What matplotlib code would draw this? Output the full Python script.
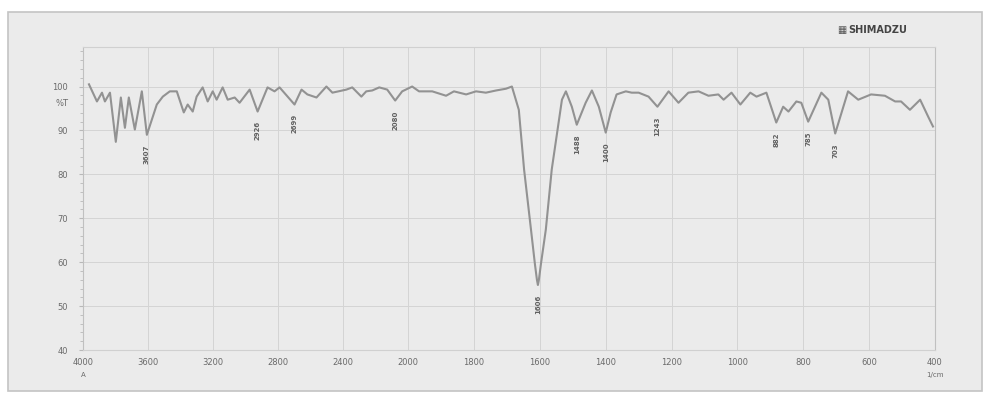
"""
FTIR spectrum (Shimadzu print-out style), %T vs wavenumber.
Split x-scale: 4000-2000 cm-1 compressed, 2000-400 cm-1 expanded.
"""

import numpy as np
import matplotlib.pyplot as plt
from matplotlib.scale import FuncScale
from matplotlib.patches import Rectangle
import matplotlib.ticker as mticker

# ──────────────────────────────────────────────
# Data (read off the scanned print-out)
# ──────────────────────────────────────────────
wavenumber = [
    3963, 3914, 3883, 3865, 3834, 3798, 3767, 3742, 3718, 3681,
    3638, 3607, 3546, 3509, 3466, 3423, 3380, 3356, 3325, 3301,
    3264, 3233, 3202, 3178, 3141, 3110, 3067, 3037, 2975, 2926,
    2865, 2822, 2791, 2699, 2656, 2620, 2564, 2503, 2466, 2380,
    2344, 2288, 2258, 2221, 2178, 2129, 2080, 2037, 1988, 1967,
    1927, 1885, 1861, 1824, 1794, 1764, 1733, 1703, 1685, 1664,
    1648, 1627, 1615, 1609, 1606, 1603, 1597, 1582, 1564, 1533,
    1521, 1503, 1488, 1461, 1442, 1421, 1400, 1385, 1367, 1339,
    1321, 1300, 1270, 1243, 1209, 1179, 1149, 1118, 1088, 1058,
    1042, 1018, 991, 961, 942, 912, 882, 861, 845, 821,
    806, 785, 745, 724, 703, 664, 633, 594, 552, 521,
    503, 476, 445, 421, 406,
]
transmittance = [
    100.5, 96.6, 98.6, 96.6, 98.6, 87.4, 97.5, 90.6, 97.5, 90.2,
    98.9, 89.0, 95.9, 97.7, 98.9, 98.9, 94.1, 95.9, 94.3, 97.7,
    99.8, 96.6, 98.9, 97.0, 99.8, 97.0, 97.5, 96.3, 99.3, 94.3,
    99.8, 98.9, 99.8, 95.9, 99.3, 98.2, 97.5, 100.0, 98.6, 99.3,
    99.8, 97.7, 98.9, 99.1, 99.8, 99.3, 96.8, 98.9, 100.0, 98.9,
    98.9, 97.9, 98.9, 98.2, 98.9, 98.6, 99.1, 99.5, 100.0, 94.7,
    81.1, 67.4, 59.5, 56.0, 54.8, 56.0, 59.5, 67.4, 81.1, 97.0,
    98.9, 95.4, 91.3, 96.3, 99.1, 95.4, 89.5, 94.1, 98.2, 98.9,
    98.6, 98.6, 97.7, 95.4, 98.9, 96.3, 98.6, 98.9, 97.9, 98.2,
    97.0, 98.6, 95.9, 98.6, 97.7, 98.6, 91.8, 95.4, 94.3, 96.6,
    96.3, 92.0, 98.6, 97.0, 89.3, 98.9, 97.0, 98.2, 97.9, 96.6,
    96.6, 94.7, 97.0, 93.2, 90.9,
]

# labelled peaks
peak_wn = [3607, 2926, 2699, 2080, 1606, 1488, 1400, 1243, 882, 785, 703]
peak_t = [89.0, 94.3, 95.9, 96.8, 54.8, 91.3, 89.5, 95.4, 91.8, 92.0, 89.3]
peak_labels = ["3607", "2926", "2699", "2080", "1606", "1488",
               "1400", "1243", "882", "785", "703"]

x_ticks = [4000, 3600, 3200, 2800, 2400, 2000, 1800,
           1600, 1400, 1200, 1000, 800, 600, 400]
y_ticks = [40, 50, 60, 70, 80, 90, 100]

# ──────────────────────────────────────────────
# Style
# ──────────────────────────────────────────────
PAPER = "#ebebeb"
INK = "#929292"
TEXT = "#6a6a6a"
GRID = "#d4d4d4"

plt.rcParams.update({
    "font.family": "DejaVu Sans",
    "font.size": 6,
    "axes.edgecolor": "#c0c0c0",
})


# piecewise-linear wavenumber scale (half density above 2000)
def fwd(w):
    w = np.asarray(w, dtype=float)
    return np.where(w >= 2000, 0.163 * (w - 2000), 0.33 * (w - 2000))


def inv(v):
    v = np.asarray(v, dtype=float)
    return np.where(v >= 0, 2000 + v / 0.163, 2000 + v / 0.33)


# ──────────────────────────────────────────────
# Figure
# ──────────────────────────────────────────────
fig = plt.figure(figsize=(9.9, 4.0), dpi=100, facecolor="white")
fig.patches.append(Rectangle((0.008, 0.022), 0.984, 0.948,
                             transform=fig.transFigure,
                             facecolor=PAPER, edgecolor="#c4c4c4",
                             linewidth=1.2, zorder=-10))

ax = fig.add_axes([0.0838, 0.125, 0.8606, 0.7575])
ax.set_facecolor(PAPER)
ax.set_xscale(FuncScale(ax, (fwd, inv)))
ax.set_xlim(4000, 400)
ax.set_ylim(40, 109)

ax.plot(wavenumber, transmittance, color=INK, linewidth=1.5, zorder=3,
        solid_joinstyle="round")

for w, t, lab in zip(peak_wn, peak_t, peak_labels):
    ax.text(w, t - 2.2, lab, rotation=90, ha="center", va="top",
            fontsize=5, color="#606060", fontweight="bold", zorder=4)

# axes / ticks
ax.set_xticks(x_ticks)
ax.set_xticklabels([str(v) for v in x_ticks], color=TEXT)
ax.set_yticks(y_ticks)
ax.set_yticklabels([str(v) for v in y_ticks], color=TEXT)
ax.yaxis.set_minor_locator(mticker.MultipleLocator(2))
ax.tick_params(axis="x", length=0, pad=6)
ax.tick_params(axis="y", which="major", length=3, pad=8, color="#b8b8b8")
ax.tick_params(axis="y", which="minor", length=2, color="#b8b8b8")
ax.grid(True, color=GRID, linewidth=0.7, zorder=1)
ax.set_axisbelow(True)
ax.spines["top"].set_color("#d0d0d0")
ax.spines["bottom"].set_color("#d0d0d0")

ax.text(-0.017, 96.2, "%T", transform=ax.get_yaxis_transform(),
        ha="right", va="center", color=TEXT)
ax.text(4000, 34.2, "A", ha="center", va="center", color=TEXT, fontsize=5)
ax.text(400, 34.4, "1/cm", ha="center", va="center", color=TEXT, fontsize=5)

fig.text(0.855, 0.925, "▦", ha="right", va="center",
         color="#555555", fontsize=7)
fig.text(0.857, 0.925, "SHIMADZU", ha="left", va="center",
         color="#444444", fontsize=7, fontweight="bold")

fig.savefig("out.png", dpi=100, facecolor="white")
